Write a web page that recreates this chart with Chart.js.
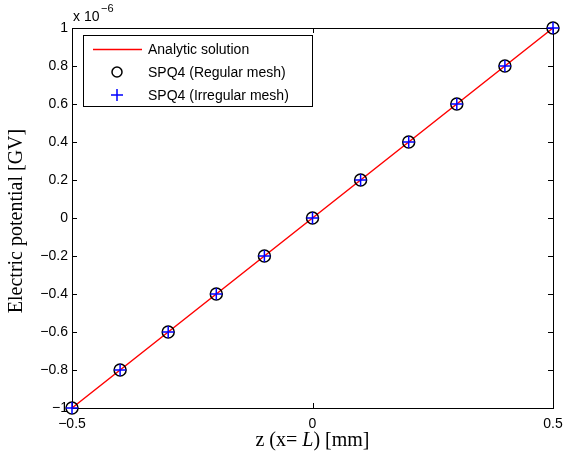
<!DOCTYPE html>
<html>
<head>
<meta charset="utf-8">
<script src="https://cdn.jsdelivr.net/npm/chart.js@4"></script>
<style>
  html, body { margin: 0; padding: 0; background: #fff; }
  #wrap { width: 563px; height: 453px; }
</style>
</head>
<body>
<div id="wrap"><canvas id="grafico" width="563" height="453"></canvas></div>
<script>
// datos (potencial en unidades de 1e-6 GV)
const zValues = [-0.5, -0.4, -0.3, -0.2, -0.1, 0, 0.1, 0.2, 0.3, 0.4, 0.5];
const analytic = [-1, -0.8, -0.6, -0.4, -0.2, 0, 0.2, 0.4, 0.6, 0.8, 1];
const regularMesh = [-1, -0.8, -0.6, -0.4, -0.2, 0, 0.2, 0.4, 0.6, 0.8, 1];
const irregularMesh = [-1, -0.8, -0.6, -0.4, -0.2, 0, 0.2, 0.4, 0.6, 0.8, 1];
const xTicks = [-0.5, 0, 0.5];
const yTicks = [-1, -0.8, -0.6, -0.4, -0.2, 0, 0.2, 0.4, 0.6, 0.8, 1];
const seriesNames = ["Analytic solution", "SPQ4 (Regular mesh)", "SPQ4 (Irregular mesh)"];

const sans = "'Liberation Sans', Arial, Helvetica, sans-serif";
const serif = "'Liberation Serif', 'Times New Roman', serif";

function pts(ys) {
  return zValues.map((z, i) => ({ x: z, y: ys[i] }));
}
function fmt(v) {
  let r = Math.round(v * 10) / 10;
  return r < 0 ? "\u2212" + String(-r) : String(r);
}

// marcas hacia dentro, caja, titulos y leyenda
const extras = {
  id: "extras",
  beforeDatasetsDraw(chart) {
    const c = chart.ctx;
    const a = chart.chartArea;
    const xs = chart.scales.x, ys = chart.scales.y;
    c.save();
    c.strokeStyle = "#000";
    c.lineWidth = 1;
    c.strokeRect(a.left + 0.5, a.top + 0.5, a.right - a.left, a.bottom - a.top);
    c.beginPath();
    xTicks.forEach(v => {
      const p = Math.round(xs.getPixelForValue(v)) + 0.5;
      c.moveTo(p, a.bottom); c.lineTo(p, a.bottom - 5);
      c.moveTo(p, a.top); c.lineTo(p, a.top + 5);
    });
    yTicks.forEach(v => {
      const p = Math.round(ys.getPixelForValue(v)) + 0.5;
      c.moveTo(a.left, p); c.lineTo(a.left + 5, p);
      c.moveTo(a.right, p); c.lineTo(a.right - 5, p);
    });
    c.stroke();
    c.restore();
  },
  afterDraw(chart) {
    const c = chart.ctx;
    const a = chart.chartArea;
    c.save();
    // exponente
    c.fillStyle = "#000";
    c.textBaseline = "alphabetic";
    c.textAlign = "left";
    c.font = "14px " + sans;
    c.fillText("x 10", 73, 21);
    c.font = "11px " + sans;
    c.fillText("\u22126", 101, 12);

    // titulo eje x con L en cursiva
    c.font = "20px " + serif;
    const p1 = "z (x= ", p2 = "L", p3 = ") [mm]";
    const w1 = c.measureText(p1).width, w3 = c.measureText(p3).width;
    c.font = "italic 20px " + serif;
    const w2 = c.measureText(p2).width;
    let x0 = (a.left + a.right) / 2 - (w1 + w2 + w3) / 2;
    const yb = 446;
    c.font = "20px " + serif;
    c.fillText(p1, x0, yb);
    c.font = "italic 20px " + serif;
    c.fillText(p2, x0 + w1, yb);
    c.font = "20px " + serif;
    c.fillText(p3, x0 + w1 + w2, yb);

    // titulo eje y
    c.save();
    c.translate(22, (a.top + a.bottom) / 2 + 3);
    c.rotate(-Math.PI / 2);
    c.textAlign = "center";
    c.font = "20px " + serif;
    c.fillText("Electric potential [GV]", 0, 0);
    c.restore();

    // leyenda
    const lx = 83, ly = 35, lw = 229, lh = 71;
    c.fillStyle = "#fff";
    c.fillRect(lx, ly, lw, lh);
    c.strokeStyle = "#000";
    c.lineWidth = 1;
    c.strokeRect(lx + 0.5, ly + 0.5, lw, lh);
    c.font = "14px " + sans;
    c.fillStyle = "#000";
    c.textBaseline = "middle";
    const rows = [49, 72, 95];
    c.strokeStyle = "#ff0000";
    c.lineWidth = 1.5;
    c.beginPath(); c.moveTo(93, rows[0] + 0.5); c.lineTo(142, rows[0] + 0.5); c.stroke();
    c.strokeStyle = "#000";
    c.beginPath(); c.arc(117, rows[1], 5, 0, Math.PI * 2); c.stroke();
    c.strokeStyle = "#0000ff";
    c.beginPath();
    c.moveTo(111, rows[2]); c.lineTo(123, rows[2]);
    c.moveTo(117, rows[2] - 6); c.lineTo(117, rows[2] + 6);
    c.stroke();
    seriesNames.forEach((n, i) => c.fillText(n, 148, rows[i] + 1));
    c.restore();
  }
};

let datos = {
  datasets: [
    {
      label: seriesNames[0],
      data: pts(analytic),
      showLine: true,
      borderColor: "#ff0000",
      borderWidth: 1.5,
      pointRadius: 0,
      clip: false,
      order: 3,
    },
    {
      label: seriesNames[1],
      data: pts(regularMesh),
      pointStyle: "circle",
      pointRadius: 6,
      pointBorderWidth: 1.5,
      pointBorderColor: "#000",
      pointBackgroundColor: "rgba(0,0,0,0)",
      showLine: false,
      clip: false,
      order: 2,
    },
    {
      label: seriesNames[2],
      data: pts(irregularMesh),
      pointStyle: "cross",
      pointRadius: 6,
      pointBorderWidth: 1.5,
      pointBorderColor: "#0000ff",
      showLine: false,
      clip: false,
      order: 1,
    },
  ],
};

let opciones = {
  responsive: false,
  animation: false,
  layout: { padding: { top: 28, right: 10, left: 0, bottom: 0 } },
  scales: {
    x: {
      type: "linear",
      min: -0.5, max: 0.5,
      afterFit: s => { s.height = 45; s.paddingLeft = 0; s.paddingRight = 0; },
      afterBuildTicks: s => { s.ticks = xTicks.map(v => ({ value: v })); },
      grid: { display: false, drawTicks: false },
      border: { display: false },
      ticks: { color: "#000", font: { family: sans, size: 14 }, padding: 8, maxRotation: 0, callback: v => fmt(v) },
    },
    y: {
      type: "linear",
      min: -1, max: 1,
      afterFit: s => { s.width = 72; s.paddingTop = 0; s.paddingBottom = 0; },
      afterBuildTicks: s => { s.ticks = yTicks.map(v => ({ value: v })); },
      grid: { display: false, drawTicks: false },
      border: { display: false },
      ticks: { color: "#000", font: { family: sans, size: 14 }, padding: 4, callback: v => fmt(v) },
    },
  },
  plugins: {
    legend: { display: false },
    tooltip: { enabled: false },
  },
};

let ctx = document.getElementById("grafico").getContext("2d");
let grafico = new Chart(ctx, {
  type: "scatter",
  data: datos,
  options: opciones,
  plugins: [extras],
});
</script>
</body>
</html>
